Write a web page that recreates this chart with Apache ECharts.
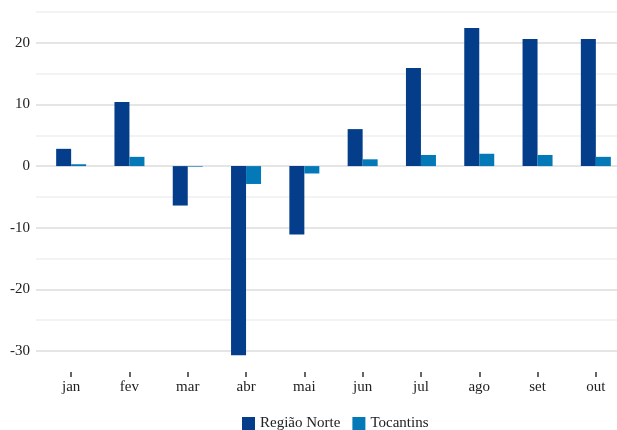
<!DOCTYPE html>
<html>
<head>
<meta charset="utf-8">
<script src="https://cdn.jsdelivr.net/npm/echarts@6/dist/echarts.min.js"></script>
<style>
  html, body { margin: 0; padding: 0; background: #fff; }
  #chart { width: 617px; height: 430px; }
</style>
</head>
<body>
<div id="chart"></div>
<script>
// Monthly variation (%) by month
const months = ['jan', 'fev', 'mar', 'abr', 'mai', 'jun', 'jul', 'ago', 'set', 'out'];
const regiaoNorte = [2.8, 10.4, -6.4, -30.7, -11.1, 6.0, 15.9, 22.4, 20.6, 20.6];
const tocantins = [0.3, 1.5, -0.1, -2.9, -1.2, 1.1, 1.8, 2.0, 1.8, 1.5];
const seriesNames = ['Região Norte', 'Tocantins'];
const seriesColors = ['#043e8a', '#0479b7'];

const yMin = -30, yMax = 25, yStep = 5;
const FONT = '"Liberation Serif", "DejaVu Serif", serif';

const chart = echarts.init(document.getElementById('chart'), null, { renderer: 'canvas' });

// Two grids share the same vertical extent: the first carries the
// gridlines and value labels, the second carries the bars and months.
const gridTop = 12, gridBottom = 79;

chart.setOption({
  animation: false,
  backgroundColor: '#ffffff',
  textStyle: { fontFamily: FONT },
  grid: [
    { left: 36, right: 0, top: gridTop, bottom: gridBottom, outerBoundsMode: 'none' },
    { left: 42, width: 583, top: gridTop, bottom: gridBottom, outerBoundsMode: 'none' }
  ],
  legend: {
    data: seriesNames,
    left: 242,
    top: 416,
    padding: 0,
    itemWidth: 13,
    itemHeight: 13,
    itemGap: 12,
    icon: 'rect',
    textStyle: { fontFamily: FONT, fontSize: 15, color: '#222' }
  },
  xAxis: [
    { type: 'value', gridIndex: 0, show: false, min: 0, max: 1 },
    {
      type: 'category',
      gridIndex: 1,
      data: months,
      position: 'bottom',
      offset: 21,
      boundaryGap: true,
      axisLine: { show: false, onZero: false },
      axisTick: { show: true, alignWithLabel: true, length: 5, lineStyle: { color: '#333', width: 1.5 } },
      axisLabel: { margin: 8, fontFamily: FONT, fontSize: 15, color: '#222' }
    }
  ],
  yAxis: [
    {
      type: 'value',
      gridIndex: 0,
      min: yMin,
      max: yMax,
      interval: yStep,
      axisLine: { show: false },
      axisTick: { show: false },
      axisLabel: {
        margin: 6,
        fontFamily: FONT,
        fontSize: 15,
        color: '#222',
        formatter: v => (v % 10 === 0 ? String(v) : '')
      },
      splitLine: {
        show: true,
        lineStyle: {
          width: 1.5,
          color: ['#dcdcdc', '#efefef', '#dcdcdc', '#efefef', '#dcdcdc', '#efefef',
                  '#dcdcdc', '#efefef', '#dcdcdc', '#efefef', '#dcdcdc', '#efefef']
        }
      }
    },
    {
      type: 'value',
      gridIndex: 1,
      min: yMin,
      max: yMax,
      interval: yStep,
      show: false,
      splitLine: { show: false }
    }
  ],
  series: [
    {
      name: seriesNames[0],
      type: 'bar',
      xAxisIndex: 1,
      yAxisIndex: 1,
      data: regiaoNorte,
      barWidth: 15,
      barGap: '0%',
      clip: false,
      itemStyle: { color: seriesColors[0] }
    },
    {
      name: seriesNames[1],
      type: 'bar',
      xAxisIndex: 1,
      yAxisIndex: 1,
      data: tocantins,
      barWidth: 15,
      barGap: '0%',
      clip: false,
      itemStyle: { color: seriesColors[1] }
    }
  ]
});
</script>
</body>
</html>
